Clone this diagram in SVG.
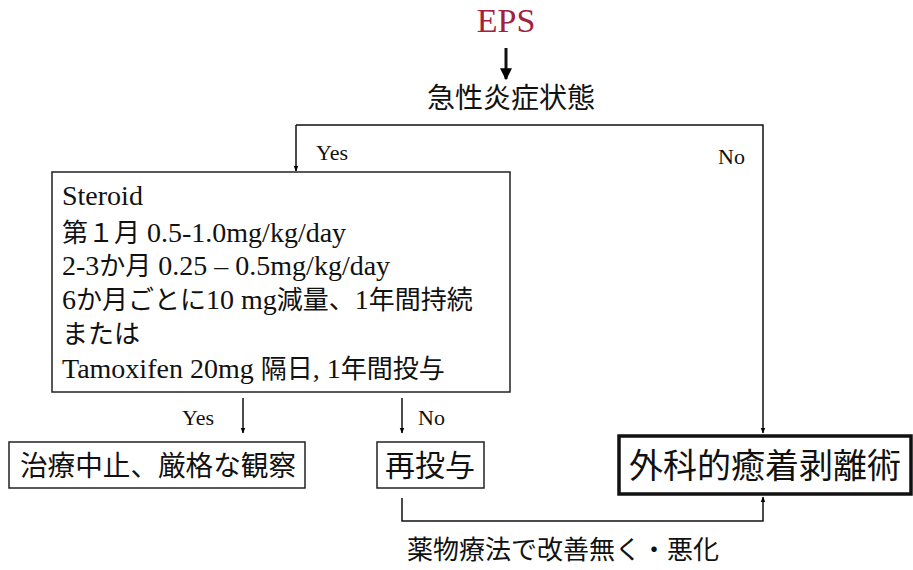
<svg xmlns="http://www.w3.org/2000/svg" width="913" height="570" viewBox="0 0 913 570">
<defs>
<marker id="ah" viewBox="0 0 10 10" refX="9" refY="5" markerWidth="6" markerHeight="10" markerUnits="userSpaceOnUse" orient="auto"><path d="M0,1 L10,5 L0,9 z" fill="#000"/></marker>
<marker id="ahb" viewBox="0 0 10 10" refX="9" refY="5" markerWidth="4" markerHeight="4" orient="auto"><path d="M0,0 L10,5 L0,10 z" fill="#000"/></marker>
</defs>
<style>
.serif{font-family:"Liberation Serif","Times New Roman",serif;fill:#111}
.jp{font-family:"Noto Sans CJK JP","Noto Sans",sans-serif;fill:#111}
.box{fill:#fff;stroke:#222;stroke-width:1.5}
.ln{fill:none;stroke:#111;stroke-width:1.5}
</style>
<rect width="913" height="570" fill="#fff"/>
<g id="eps"><text x="506" y="32" text-anchor="middle" class="serif" style="fill:#a3213c" font-size="34">EPS</text></g>
<g id="acute"><text x="511" y="108" text-anchor="middle" class="jp" font-size="28">急性炎症状態</text></g>
<g id="treatment">
<rect x="52" y="172" width="458" height="220" class="box"/>
<text x="62" y="205" class="serif" font-size="28">Steroid</text>
<text x="62" y="242" class="serif" font-size="28"><tspan class="jp" font-size="26">第１月</tspan> 0.5-1.0mg/kg/day</text>
<text x="62" y="275" class="serif" font-size="28">2-3<tspan class="jp" font-size="26">か月</tspan> 0.25 – 0.5mg/kg/day</text>
<text x="62" y="309" class="serif" font-size="28">6<tspan class="jp" font-size="26">か月ごとに</tspan>10 mg<tspan class="jp" font-size="26">減量、</tspan>1<tspan class="jp" font-size="26">年間持続</tspan></text>
<text x="62" y="343" class="jp" font-size="26">または</text>
<text x="62" y="378" class="serif" font-size="28">Tamoxifen 20mg <tspan class="jp" font-size="26">隔日</tspan>, 1<tspan class="jp" font-size="26">年間投与</tspan></text>
</g>
<g id="stop">
<rect x="9" y="442" width="296" height="46" class="box"/>
<text x="158" y="476" text-anchor="middle" class="jp" font-size="28" textLength="276" lengthAdjust="spacingAndGlyphs">治療中止、厳格な観察</text>
</g>
<g id="readmin">
<rect x="377" y="442" width="107" height="46" class="box"/>
<text x="430" y="476" text-anchor="middle" class="jp" font-size="30">再投与</text>
</g>
<g id="surgery">
<rect x="619" y="436" width="292" height="58" fill="#fff" stroke="#111" stroke-width="3.5"/>
<text x="765" y="478" text-anchor="middle" class="jp" font-size="34">外科的癒着剥離術</text>
</g>
<g id="connectors">
<line x1="506" y1="48" x2="506" y2="79" stroke="#111" stroke-width="3" marker-end="url(#ahb)"/>
<polyline points="296,125 763,125 763,433" class="ln" marker-end="url(#ah)"/>
<path d="M296,125 V171" class="ln" marker-end="url(#ah)"/>
<line x1="243" y1="398" x2="243" y2="433" class="ln" marker-end="url(#ah)"/>
<line x1="402" y1="398" x2="402" y2="433" class="ln" marker-end="url(#ah)"/>
<polyline points="402,498 402,521 763,521 763,497" class="ln" marker-end="url(#ah)"/>
</g>
<g id="labels">
<text x="316" y="160" class="serif" font-size="22">Yes</text>
<text x="718" y="164" class="serif" font-size="22">No</text>
<text x="182" y="425" class="serif" font-size="22">Yes</text>
<text x="418" y="425" class="serif" font-size="22">No</text>
<text x="563" y="559" text-anchor="middle" class="jp" font-size="26">薬物療法で改善無く・悪化</text>
</g>
</svg>
